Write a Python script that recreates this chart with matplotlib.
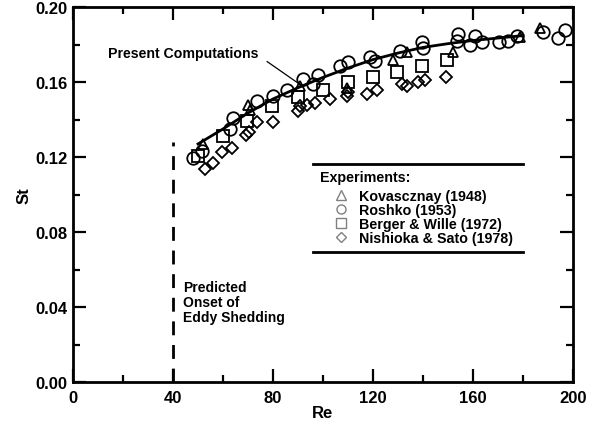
import matplotlib
matplotlib.use("Agg")
import matplotlib.pyplot as plt
from matplotlib.lines import Line2D
from matplotlib.ticker import MultipleLocator, FormatStrFormatter

plt.rcParams['font.family'] = ['Liberation Sans', 'DejaVu Sans']
plt.rcParams['font.weight'] = 'bold'

# ---- data ----
# Present computations (solid line)
comp_re = [50, 60, 70, 80, 90, 100, 110, 120, 130, 140, 150, 160, 170, 180]
comp_st = [0.127, 0.135, 0.1435, 0.151, 0.157, 0.1625, 0.1675, 0.172, 0.1755,
           0.1785, 0.1805, 0.1822, 0.1835, 0.1848]

# Kovasznay (1948)
kov_re = [52, 70, 71, 90.8, 109.6, 128, 133.6, 152, 179, 186.8]
kov_st = [0.127, 0.148, 0.145, 0.158, 0.157, 0.172, 0.176, 0.176, 0.184, 0.189]

# Roshko (1953)
ros_re = [48, 51.6, 62.8, 64, 73.6, 80, 85.6, 92, 96, 98, 106.8, 110, 118.8,
          120.8, 130.8, 139.6, 140, 153.6, 154, 159, 160.8, 163.6, 170.4, 174,
          177.6, 188, 194, 196.8]
ros_st = [0.1195, 0.123, 0.135, 0.141, 0.150, 0.1525, 0.156, 0.1616, 0.159,
          0.1637, 0.1685, 0.1707, 0.1733, 0.1712, 0.1765, 0.1813, 0.178,
          0.1819, 0.1856, 0.180, 0.1845, 0.1813, 0.1813, 0.1819, 0.1845,
          0.1867, 0.1835, 0.1877]

# Berger & Wille (1972)
bw_re = [50, 60, 69.6, 79.6, 90, 100, 110, 120, 129.6, 139.6, 149.6]
bw_st = [0.1205, 0.131, 0.139, 0.147, 0.152, 0.1557, 0.160, 0.1627, 0.1653,
         0.1685, 0.1717]

# Nishioka & Sato (1978)
ns_re = [52.8, 56, 59.6, 63.6, 69.2, 70.4, 73.6, 80, 90, 90.8, 93.6, 96.8,
         102.8, 109.6, 110, 117.6, 121.6, 131.6, 133.6, 138, 140.8, 149.2]
ns_st = [0.1136, 0.117, 0.1227, 0.125, 0.132, 0.1333, 0.1387, 0.1387, 0.1445,
         0.147, 0.148, 0.1488, 0.151, 0.1525, 0.1547, 0.1536, 0.156, 0.159,
         0.158, 0.160, 0.161, 0.1627]

onset_re = 40

labels = ["Kovascznay (1948)", "Roshko (1953)", "Berger & Wille (1972)",
          "Nishioka & Sato (1978)"]

fig = plt.figure(figsize=(5.95, 4.27), dpi=100)
ax = fig.add_axes([0.1227, 0.103, 0.8403, 0.878])

mk = dict(linestyle='none', markerfacecolor='none', markeredgecolor='black',
          markeredgewidth=1.3)
ax.plot(ros_re, ros_st, marker='o', markersize=9, **mk)
ax.plot(bw_re, bw_st, marker='s', markersize=9, **mk)
ax.plot(ns_re, ns_st, marker='D', markersize=6.5, **mk)
ax.plot(kov_re, kov_st, marker='^', markersize=7.5, **mk)
ax.plot(comp_re, comp_st, color='black', linewidth=2)

# onset of shedding
ax.plot([onset_re, onset_re], [0, 0.128], color='black', linewidth=2,
        dashes=(5, 3.5))
ax.text(44, 0.0545, "Predicted\nOnset of\nEddy Shedding", fontsize=10,
        fontweight='bold', va='top', ha='left', linespacing=1.12)

ax.text(14, 0.1755, "Present Computations", fontsize=10.2, fontweight='bold',
        va='center', ha='left')
ax.annotate("", xy=(91.6, 0.158), xytext=(77.6, 0.171),
            arrowprops=dict(arrowstyle='-', color='black', lw=0.9,
                            shrinkA=0, shrinkB=0))

# legend
gray = '#808080'
handles = [
    Line2D([], [], marker='^', linestyle='none', markerfacecolor='none',
           markeredgecolor=gray, markersize=6.5),
    Line2D([], [], marker='o', linestyle='none', markerfacecolor='none',
           markeredgecolor=gray, markersize=6.5),
    Line2D([], [], marker='s', linestyle='none', markerfacecolor='none',
           markeredgecolor=gray, markersize=6.5),
    Line2D([], [], marker='D', linestyle='none', markerfacecolor='none',
           markeredgecolor=gray, markersize=4.8),
]
ax.text(98.8, 0.1093, "Experiments:", fontsize=10.3, fontweight='bold',
        va='center', ha='left')
ax.legend(handles, labels, loc='upper left', bbox_to_anchor=(0.514, 0.522),
          frameon=False, prop={'weight': 'bold', 'size': 10.3},
          handletextpad=0.66, labelspacing=0.0, borderpad=0.2,
          handlelength=1.2, borderaxespad=0)
ax.plot([96, 180], [0.1163, 0.1163], color='black', linewidth=2)
ax.plot([96, 180], [0.0693, 0.0693], color='black', linewidth=2)

ax.set_xlim(0, 200)
ax.set_ylim(0, 0.20)
ax.xaxis.set_major_locator(MultipleLocator(40))
ax.xaxis.set_minor_locator(MultipleLocator(20))
ax.yaxis.set_major_locator(MultipleLocator(0.04))
ax.yaxis.set_minor_locator(MultipleLocator(0.02))
ax.yaxis.set_major_formatter(FormatStrFormatter('%.2f'))
ax.tick_params(which='both', direction='in', top=True, right=True, width=1.6,
               labelsize=12)
ax.tick_params(axis='x', pad=6)
ax.tick_params(axis='y', pad=4)
ax.tick_params(which='major', length=9.5)
ax.tick_params(which='minor', length=5)
for lab in ax.get_xticklabels() + ax.get_yticklabels():
    lab.set_fontweight('bold')
for sp in ax.spines.values():
    sp.set_linewidth(2)

ax.set_xlabel("Re", fontsize=12, fontweight='bold', labelpad=0)
ax.set_ylabel("St", fontsize=12, fontweight='bold', labelpad=3)

fig.savefig("out.png", dpi=100)
